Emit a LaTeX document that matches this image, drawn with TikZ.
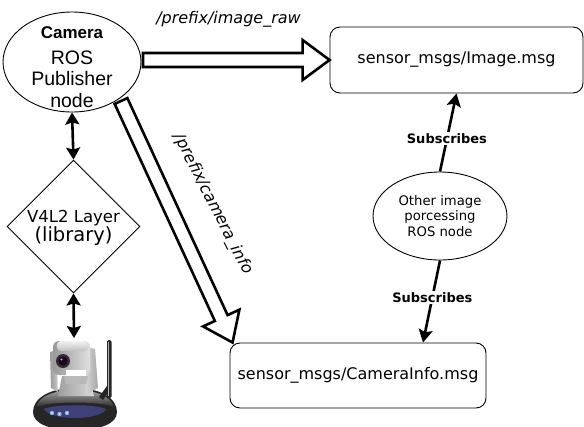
\documentclass[tikz,border=0pt]{standalone}
\usepackage{fontspec}
\setmainfont{DejaVu Sans}
\newfontfamily\helv{Liberation Sans}
\usetikzlibrary{shapes.geometric,arrows.meta,calc}

\tikzset{
  msgbox/.style={draw, line width=0.9pt, rounded corners=10pt, inner sep=0pt},
  rosnode/.style={draw, line width=0.9pt, ellipse, inner sep=0pt},
  layerbox/.style={draw, line width=0.9pt, diamond, inner sep=0pt},
  blockarr/.style={draw, fill=white, line width=2.6pt, line join=miter},
  linkarr/.style={line width=2.6pt, {Stealth[length=12pt,width=14pt,inset=2pt]}-{Stealth[length=12pt,width=14pt,inset=2pt]}},
  subarr/.style={line width=2.6pt, -{Stealth[length=13pt,width=14pt,inset=2.5pt]}},
  topic/.style={font=\itshape\fontsize{16}{19}\selectfont, inner sep=0pt},
  sublabel/.style={font=\bfseries\fontsize{13}{15}\selectfont, fill=white, inner sep=1.5pt},
}

% hollow block arrow from #1 to #2
\newcommand\hollowarrow[2]{%
  \coordinate (ha-c) at ($(#2)!27pt!(#1)$);
  \draw[blockarr] ($(#1)!7pt!90:(#2)$) -- ($(ha-c)!7pt!-90:(#1)$)
    -- ($(ha-c)!20pt!-90:(#1)$) -- (#2) -- ($(ha-c)!20pt!90:(#1)$)
    -- ($(ha-c)!7pt!90:(#1)$) -- ($(#1)!7pt!-90:(#2)$) -- cycle;%
}

\begin{document}
\begin{tikzpicture}[x=1pt,y=-1pt]
\useasboundingbox (0,0) rectangle (584,426);

% nodes
\node[rosnode, minimum width=138pt, minimum height=100pt] (cam) at (72,62) {};
\node[align=center, inner sep=0pt, font=\helv\fontsize{19.5}{21.5}\selectfont] (camtext) at (72,67)
  {{\bfseries\fontsize{17}{20}\selectfont Camera}\\[4pt] ROS\\Publisher\\node};

\node[layerbox, minimum width=133pt, minimum height=133pt] (dia) at (73.5,226.5) {};
\node[align=center, inner sep=0pt] (diatext) at (73.5,228)
  {\fontsize{16.5}{20}\selectfont V4L2 Layer\\[-1pt]\fontsize{19.5}{20}\selectfont (library)};

\node[msgbox, minimum width=253pt, minimum height=66pt, font=\fontsize{16}{19}\selectfont] (img) at (456.5,60) {sensor\_msgs/Image.msg};
\node[msgbox, minimum width=256pt, minimum height=65pt, font=\fontsize{16}{19}\selectfont] (info) at (358,375.5) {sensor\_msgs/CameraInfo.msg};

\node[rosnode, minimum width=134pt, minimum height=88pt] (other) at (440,216) {};
\node[align=center, inner sep=0pt, font=\fontsize{13.2}{15.5}\selectfont] (othertext) at (440,216)
  {Other image\\porcessing\\ROS node};

% webcam
\coordinate (webcam) at (74,338);
\begin{scope}
  % base
  \fill[black!85] (33,412) .. controls (33,398) and (50,388) .. (75,388)
     .. controls (100,388) and (117,398) .. (117,412)
     .. controls (117,424) and (100,430) .. (75,430)
     .. controls (50,430) and (33,424) .. (33,412) -- cycle;
  \shade[top color=gray!70, bottom color=gray!35!black]
     (36,407) .. controls (39,396) and (55,390) .. (75,390)
     .. controls (95,390) and (111,396) .. (114,407)
     .. controls (100,401) and (50,401) .. (36,407) -- cycle;
  \fill[blue!30!black!75] (44,409) .. controls (55,404) and (95,404) .. (106,409)
     .. controls (100,421) and (50,421) .. (44,409) -- cycle;
  \foreach \lx/\ly in {52/413, 59.5/414, 67/413}
    {\fill[cyan!50!blue!45] (\lx,\ly) circle (2.2);
     \fill[cyan!25!white] (\lx,\ly) circle (1.1);}
  % antenna
  \fill[gray!30!black] (99,397) -- (107,386) -- (110,390) -- (103,400) -- cycle;
  \fill[gray!30!black, rounded corners=1.5pt] (107,340) rectangle (111.5,398);
  \fill[gray!60] (108,342) rectangle (108.8,396);
  % pedestal and yoke
  \shade[left color=gray!75, right color=gray!30] (58,396) -- (62,376) -- (89,376) -- (94,396) -- cycle;
  \shade[left color=gray!25, right color=gray!70] (83,346) -- (95,349) -- (98,388) -- (86,394) -- cycle;
  \shade[left color=gray!80, right color=gray!40] (50,352) -- (56,350) -- (58,392) -- (51,388) -- cycle;
  % head
  \shade[left color=gray!80, right color=gray!25, rounded corners=6pt] (53,341) rectangle (90,375);
  \shade[top color=gray!10, bottom color=gray!50, rounded corners=4pt] (57,341) rectangle (88,351);
  \fill[white] (66,370) rectangle (86,376);
  \fill[gray!55] (64,376) -- (88,376) -- (86,384) -- (66,384) -- cycle;
  % lens
  \fill[gray!35!black] (63,361) circle (7);
  \fill[black!75!violet] (63,361) circle (4.5);
  \fill[white, opacity=.7] (61.5,359.5) circle (1.2);
\end{scope}

% links to the driver layer
\draw[linkarr] (cam.south) -- (dia.north);
\draw[linkarr] (dia.south) -- (webcam);

% published topics
\coordinate (rawS) at (143,60);
\hollowarrow{rawS}{img.west}
\node[topic] (rawlbl) at (228.5,19) {/prefix/image\_raw};

\coordinate (infoS) at (121,101);
\coordinate (infoE) at ($(info.north west)+(3,0)$);
\hollowarrow{infoS}{infoE}
\node[topic, rotate=-63] (infolbl) at (213,204) {/prefix/camera\_info};

% subscriptions
\draw[subarr] (other.north) -- (img.south) node[sublabel, pos=0.42] (sub1) {Subscribes};
\coordinate (infoT) at ($(info.north)+(65,0)$);
\draw[subarr] (other.south) -- (infoT) node[sublabel, pos=0.45] (sub2) {Subscribes};
\end{tikzpicture}
\end{document}
